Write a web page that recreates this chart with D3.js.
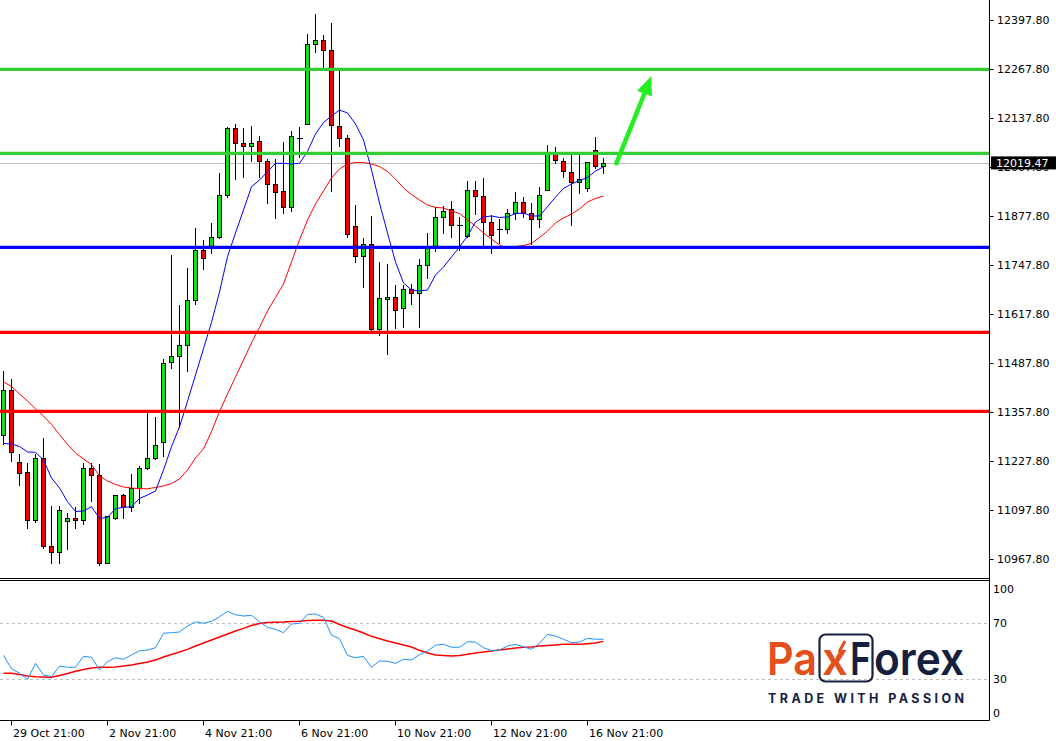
<!DOCTYPE html>
<html><head><meta charset="utf-8">
<script src="https://cdn.jsdelivr.net/npm/d3@7"></script>
<style>html,body{margin:0;padding:0;background:#fff;}svg{display:block;}</style>
</head><body><svg id="c" width="1056" height="741"></svg>
<script>
// ---------- DATA (H4 candles) ----------
const opens = [11296.8,11417.0,11226.8,11198.6,11072.1,11235.8,11002.3,10986.4,11069.4,11076.6,11071.3,11209.3,11190.7,10958.8,11078.2,11137.6,11107.4,11157.0,11210.9,11235.8,11279.8,11492.1,11506.4,11535.6,11655.8,11788.4,11797.2,11822.1,11933.5,12111.3,12071.5,12064.4,12076.8,12023.8,11962.7,11944.2,11901.7,12086.4,12122.7,12334.2,12344.8,12318.3,12116.6,12084.8,11851.3,11771.7,11803.5,11578.0,11657.6,11662.9,11633.8,11684.2,11673.5,11747.8,11792.9,11875.2,11896.4,11854.0,11825.6,11946.8,11930.9,11862.7,11844.9,11843.3,11885.8,11915.8,11885.8,11869.9,11946.8,12045.0,12025.3,11996.2,11968.0,11952.1,12052.9,12011.3];
const highs = [11468.2,11446.2,11247.2,11224.1,11247.2,11288.9,11109.2,11109.2,11090.7,11105.8,11224.1,11222.5,11220.7,11081.9,11137.6,11141.1,11193.3,11215.4,11357.8,11345.4,11499.2,11775.2,11642.5,11741.5,11846.0,11815.0,11859.3,11991.9,12115.6,12122.7,12112.9,12117.4,12090.9,12029.1,12029.1,12074.2,12103.4,12114.8,12360.7,12414.6,12358.8,12389.9,12265.2,12092.7,11907.8,11819.5,11877.8,11756.6,11751.3,11696.4,11696.4,11697.4,11763.7,11832.7,11901.7,11906.0,11918.4,11876.8,11971.5,11971.5,11979.5,11880.5,11871.5,11896.4,11942.3,11929.8,11912.3,11956.4,12067.0,12060.9,12033.3,12040.5,12040.5,12021.1,12087.4,12031.7];
const lows = [11273.7,11229.4,11165.7,11051.7,11066.0,10997.8,10958.8,10958.8,10995.9,11051.7,11060.7,11123.3,10952.7,10957.2,11074.7,11078.2,11096.8,11116.4,11207.4,11233.9,11242.7,11474.6,11319.6,11468.2,11644.4,11737.2,11779.7,11820.3,11928.2,11976.8,11982.9,12025.3,11982.9,11913.9,11874.1,11887.4,11892.7,12034.4,12122.7,12314.5,12267.8,11945.8,12064.4,11822.1,11757.4,11691.1,11573.5,11562.9,11511.7,11580.7,11584.9,11644.4,11583.3,11713.3,11785.0,11834.3,11822.1,11788.4,11822.1,11883.9,11792.9,11781.3,11806.2,11832.7,11871.5,11876.8,11804.3,11850.2,11946.8,12018.4,11982.9,11854.8,11938.9,11945.8,12006.8,11993.5];
const closes = [11417.0,11253.3,11196.0,11072.1,11235.8,11002.3,10986.4,11097.8,11076.6,11071.3,11209.3,11190.7,10958.8,11081.9,11137.6,11107.4,11157.0,11209.3,11235.8,11271.1,11489.4,11506.4,11535.6,11655.8,11788.4,11766.4,11822.1,11933.5,12111.3,12071.5,12064.4,12071.5,12023.8,11962.7,11941.5,11901.7,12090.1,12086.4,12334.2,12344.8,12318.3,12119.3,12084.8,11830.1,11771.7,11803.5,11578.0,11660.3,11662.9,11628.4,11684.2,11673.5,11747.8,11792.9,11875.2,11891.9,11854.0,11854.0,11946.8,11930.9,11862.7,11827.4,11844.9,11885.8,11915.8,11885.8,11869.9,11933.5,12045.0,12027.2,11998.0,11968.0,11976.0,12021.1,12011.3,12019.47];
// moving averages on the price panel (blue = fast, red = slow)
const maFast = [11275.1,11273.7,11267.1,11252.5,11251.7,11231.3,11183.5,11157.0,11120.6,11094.6,11096.0,11107.4,11076.6,11079.2,11102.1,11105.8,11107.4,11129.1,11138.4,11149.0,11204.7,11266.6,11319.6,11387.0,11456.8,11526.6,11596.6,11677.0,11770.7,11833.5,11894.6,11956.4,11974.1,11996.2,12018.4,12018.4,12016.6,12018.4,12049.8,12096.2,12126.7,12143.9,12159.9,12151.9,12122.7,12080.3,12000.7,11913.1,11833.5,11756.6,11700.9,11682.3,11679.7,11682.3,11722.1,11743.3,11769.9,11796.4,11825.6,11862.7,11876.0,11878.6,11874.7,11876.0,11885.3,11886.6,11878.6,11878.6,11903.3,11929.0,11951.6,11963.5,11972.8,11980.8,11998.0,12009.4];
const maSlow = [11438.2,11426.3,11406.4,11387.8,11366.6,11348.0,11325.5,11298.9,11272.4,11249.9,11233.9,11219.3,11188.8,11175.6,11166.3,11159.6,11157.0,11155.1,11155.1,11158.3,11162.3,11168.9,11180.9,11204.7,11236.6,11260.5,11306.9,11360.0,11406.4,11451.5,11496.6,11541.7,11582.8,11626.6,11662.4,11698.2,11756.6,11815.0,11868.0,11910.5,11945.0,11979.5,12003.3,12016.6,12020.6,12020.6,12016.6,12010.0,11996.7,11976.8,11952.9,11935.7,11921.1,11907.8,11901.2,11899.9,11891.9,11885.3,11868.0,11852.1,11833.5,11817.6,11801.7,11792.9,11797.7,11800.4,11805.7,11821.6,11838.8,11860.1,11873.3,11883.9,11897.2,11915.8,11925.1,11931.7];
// oscillator panel
const osc = [47.1,37.6,34.3,30.0,41.4,33.1,31.9,39.5,38.6,38.6,46.4,45.7,36.6,42.6,45.4,44.3,47.4,50.4,50.9,52.6,62.9,63.3,63.8,68.1,71.1,70.0,71.4,74.7,78.6,76.1,75.2,75.7,71.1,67.1,65.7,63.3,69.5,70.0,76.4,76.6,74.3,61.6,59.0,47.1,45.4,46.4,38.6,43.1,42.9,41.4,44.3,43.8,47.6,50.2,54.3,55.0,52.9,52.9,56.9,56.4,52.6,50.4,50.9,53.8,55.0,53.3,51.4,55.7,62.1,60.9,58.6,56.1,56.6,59.3,58.6,58.6];
const oscSignal = [34.3,34.3,33.4,32.4,31.9,31.6,31.4,32.7,34.1,35.7,37.0,38.1,38.6,38.6,38.8,39.5,40.2,41.3,42.4,43.8,45.9,47.7,49.5,51.4,53.8,55.9,58.1,60.2,62.4,64.5,66.4,68.4,69.9,70.6,70.7,70.9,71.3,71.4,72.0,72.1,72.1,71.6,69.1,67.0,65.2,63.1,60.7,58.9,57.4,55.9,54.5,53.1,50.7,48.8,47.4,47.0,46.6,47.0,47.9,48.8,49.5,50.2,50.9,51.6,52.4,52.9,53.1,53.8,54.1,54.5,55.0,55.0,55.0,55.4,55.9,57.1];
// horizontal levels
const greenLevels = [12267.8, 12044.9];
const blueLevels = [11795.5];
const redLevels = [11570.0, 11360.4];
const lastPrice = 12019.47;
// axes
const priceTicks = [12397.8,12267.8,12137.8,12007.8,11877.8,11747.8,11617.8,11487.8,11357.8,11227.8,11097.8,10967.8];
const timeLabels = ["29 Oct 21:00","2 Nov 21:00","4 Nov 21:00","6 Nov 21:00","10 Nov 21:00","12 Nov 21:00","16 Nov 21:00"];
const timeLabelIndex = [1,13,25,37,49,61,73];
const oscTicks = [100,70,30,0];
const oscLevels = [70,30];
// arrow annotation (candle index, price)
const arrowStart = [76.6, 12018];
const arrowEnd = [81.0, 12250];

// ---------- DRAWING ----------
const svg = d3.select("#c");
const W = 1056, H = 741;
const axisX = 989.5, mainBottom = 578.5, oscTop = 580.5, oscBottom = 720.5;
const FONT = "DejaVu Sans, Verdana, sans-serif";

const x = d3.scaleLinear().domain([0, 75]).range([3, 603]);
const cx = i => x(i) + 0.5;
const y = d3.scaleLinear().domain([10967.8, 12267.8]).range([559.3, 69.3]);
const yo = d3.scaleLinear().domain([0, 100]).range([721.3, 581.3]);

svg.append("rect").attr("width", W).attr("height", H).attr("fill", "#fff");

const defs = svg.append("defs");
defs.append("clipPath").attr("id", "mainClip").append("rect").attr("x", 0).attr("y", 0).attr("width", axisX).attr("height", mainBottom);
defs.append("clipPath").attr("id", "oscClip").append("rect").attr("x", 0).attr("y", oscTop + 0.5).attr("width", axisX).attr("height", oscBottom - oscTop - 1);

const main = svg.append("g").attr("clip-path", "url(#mainClip)");

// current price line (grey)
main.append("line").attr("x1", 0).attr("x2", axisX).attr("y1", Math.round(y(lastPrice)) + 0.5).attr("y2", Math.round(y(lastPrice)) + 0.5)
  .attr("stroke", "#c0c0c0").attr("stroke-width", 1);

const idx = d3.range(opens.length);
// wicks
main.append("g").selectAll("line").data(idx).join("line")
  .attr("x1", cx).attr("x2", cx)
  .attr("y1", i => Math.round(y(highs[i]))).attr("y2", i => Math.round(y(lows[i])) + 1)
  .attr("stroke", "#000").attr("stroke-width", 1);
// bodies
const bodies = main.append("g");
idx.forEach(i => {
  const o = opens[i], c = closes[i];
  const top = Math.round(y(Math.max(o, c))), bot = Math.round(y(Math.min(o, c)));
  if (bot - top < 1) {
    bodies.append("line").attr("x1", cx(i) - 2.5).attr("x2", cx(i) + 3.5).attr("y1", top + 0.5).attr("y2", top + 0.5)
      .attr("stroke", "#000").attr("stroke-width", 1);
  } else {
    bodies.append("rect").attr("x", cx(i) - 2).attr("y", top + 0.5).attr("width", 4).attr("height", bot - top)
      .attr("fill", c >= o ? "#12e012" : "#f20000").attr("stroke", "#000").attr("stroke-width", 1);
  }
});

// moving averages
const lineMain = arr => d3.line().x((d, i) => cx(i)).y(d => y(d))(arr);
main.append("path").attr("d", lineMain(maSlow)).attr("fill", "none").attr("stroke", "#ff0000").attr("stroke-width", 1);
main.append("path").attr("d", lineMain(maFast)).attr("fill", "none").attr("stroke", "#0000ff").attr("stroke-width", 1);

// horizontal levels
const lvl = (vals, col) => main.append("g").selectAll("line").data(vals).join("line")
  .attr("x1", 0).attr("x2", axisX).attr("y1", d => y(d)).attr("y2", d => y(d))
  .attr("stroke", col).attr("stroke-width", 3.2);
lvl(greenLevels, "#33cc33");
lvl(blueLevels, "#0000ff");
lvl(redLevels, "#ff0000");

// arrow
{
  const x0 = cx(arrowStart[0]), y0 = y(arrowStart[1]);
  const x1 = cx(arrowEnd[0]), y1 = y(arrowEnd[1]);
  const ang = Math.atan2(y1 - y0, x1 - x0);
  const headLen = 19, headW = 8;
  const bx = x1 - headLen * Math.cos(ang), by = y1 - headLen * Math.sin(ang);
  const nx = -Math.sin(ang), ny = Math.cos(ang);
  main.append("line").attr("x1", x0).attr("y1", y0).attr("x2", bx + 2 * Math.cos(ang)).attr("y2", by + 2 * Math.sin(ang))
    .attr("stroke", "#22ee22").attr("stroke-width", 4.5).attr("stroke-linecap", "round");
  main.append("polygon").attr("points", [[x1, y1], [bx + nx * headW, by + ny * headW], [bx - nx * headW, by - ny * headW]].map(p => p.join(",")).join(" "))
    .attr("fill", "#22ee22");
}

// ---------- oscillator panel ----------
const osg = svg.append("g").attr("clip-path", "url(#oscClip)");
osg.selectAll("line.lv").data(oscLevels).join("line").attr("class", "lv")
  .attr("x1", 0).attr("x2", axisX).attr("y1", d => Math.round(yo(d)) + 0.5).attr("y2", d => Math.round(yo(d)) + 0.5)
  .attr("stroke", "#c0c0c0").attr("stroke-width", 1).attr("stroke-dasharray", "3,3");

// logo (watermark)
const logo = svg.append("g");
logo.append("rect").attr("x", 819.5).attr("y", 634.5).attr("width", 53).attr("height", 47).attr("rx", 6)
  .attr("fill", "none").attr("stroke", "#15203f").attr("stroke-width", 2.2);
const lt = (txt, xx, len, col) => logo.append("text").attr("x", xx).attr("y", 675).text(txt)
  .attr("font-family", "Inter, 'Open Sans', sans-serif").attr("font-weight", 600).attr("font-size", 45)
  .attr("fill", col).attr("textLength", len).attr("lengthAdjust", "spacingAndGlyphs");
lt("Pa", 767, 50, "#e4501b");
lt("x", 822, 26, "#e4501b");
lt("F", 850, 21, "#15203f");
lt("orex", 874, 90, "#15203f");
logo.append("line").attr("x1", 839).attr("y1", 652).attr("x2", 845).attr("y2", 641).attr("stroke", "#e4501b").attr("stroke-width", 3);
logo.append("text").attr("x", 768).attr("y", 702.5).text("TRADE WITH PASSION")
  .attr("font-family", "Inter, 'Open Sans', sans-serif").attr("font-weight", 700).attr("font-size", 12.5)
  .attr("fill", "#15203f").attr("textLength", 196).attr("lengthAdjust", "spacing");

const lineOsc = arr => d3.line().x((d, i) => cx(i)).y(d => yo(d))(arr);
osg.append("path").attr("d", lineOsc(oscSignal)).attr("fill", "none").attr("stroke", "#ff0000").attr("stroke-width", 1.5);
osg.append("path").attr("d", lineOsc(osc)).attr("fill", "none").attr("stroke", "#1e90ff").attr("stroke-width", 1);

// ---------- frames ----------
const frame = svg.append("g").attr("stroke", "#000").attr("stroke-width", 1);
frame.append("line").attr("x1", 0).attr("x2", axisX).attr("y1", mainBottom).attr("y2", mainBottom);
frame.append("line").attr("x1", 0).attr("x2", axisX).attr("y1", oscTop).attr("y2", oscTop);
frame.append("line").attr("x1", 0).attr("x2", axisX).attr("y1", oscBottom).attr("y2", oscBottom);
frame.append("line").attr("x1", axisX).attr("x2", axisX).attr("y1", 0).attr("y2", oscBottom);

// price axis
const pa = svg.append("g");
pa.selectAll("line").data(priceTicks).join("line")
  .attr("x1", axisX).attr("x2", axisX + 4).attr("y1", d => Math.round(y(d)) + 0.5).attr("y2", d => Math.round(y(d)) + 0.5)
  .attr("stroke", "#000");
pa.selectAll("text").data(priceTicks).join("text")
  .attr("x", 997).attr("y", d => y(d) + 4).text(d => d.toFixed(2))
  .attr("font-family", FONT).attr("font-size", 11).attr("fill", "#000");
// last price marker
const ly = y(lastPrice);
svg.append("rect").attr("x", 991).attr("y", ly - 6.5).attr("width", 65).attr("height", 13).attr("fill", "#000");
svg.append("text").attr("x", 996).attr("y", ly + 4.5).text(lastPrice.toFixed(2))
  .attr("font-family", FONT).attr("font-size", 11).attr("fill", "#fff");

// oscillator axis
const oa = svg.append("g");
oa.selectAll("text").data(oscTicks).join("text")
  .attr("x", 993).attr("y", d => Math.min(713, Math.max(589, yo(d))) + 4).text(d => d)
  .attr("font-family", FONT).attr("font-size", 11).attr("fill", "#000");

// time axis
const ta = svg.append("g");
ta.selectAll("line").data(timeLabelIndex).join("line")
  .attr("x1", cx).attr("x2", cx).attr("y1", oscBottom).attr("y2", oscBottom + 5).attr("stroke", "#000");
ta.selectAll("text").data(timeLabelIndex).join("text")
  .attr("x", d => cx(d) + 1.5).attr("y", 736.5).text((d, k) => timeLabels[k])
  .attr("font-family", FONT).attr("font-size", 11).attr("fill", "#000");
</script></body></html>
